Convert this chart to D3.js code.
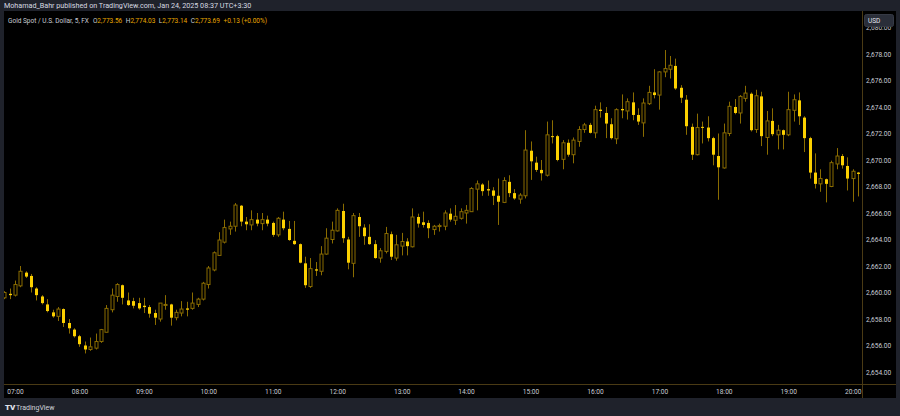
<!DOCTYPE html>
<html><head><meta charset="utf-8">
<script src="https://cdn.jsdelivr.net/npm/d3@7/dist/d3.min.js"></script>
<style>
html,body{margin:0;padding:0;background:#1f222b;}
svg{display:block;}
text{font-family:Roboto,"Noto Sans",sans-serif;}
</style></head>
<body>
<svg id="c" width="900" height="416"></svg>
<script>
// ---- data (5-minute candles, Gold Spot / USD) ----
const startTime = "2025-01-24T06:50:00";
const opens = [2659.6,2659.9,2659.8,2660.5,2661.5,2661.25,2660.3,2659.7,2659.1,2658.5,
2658.2,2658.75,2657.7,2657.2,2656.7,2656.0,2655.7,2655.8,2656.3,2657.0,
2658.7,2659.7,2660.55,2659.4,2659.35,2659.2,2659.0,2658.9,2658.45,2658.0,
2659.05,2659.1,2658.1,2658.45,2658.8,2658.8,2659.1,2659.5,2660.6,2661.7,
2662.8,2663.8,2664.8,2665.0,2666.55,2665.35,2665.1,2665.5,2665.2,2665.5,
2665.25,2664.35,2665.5,2664.8,2663.9,2663.65,2662.2,2660.45,2661.75,2661.6,
2662.9,2664.0,2664.65,2666.15,2664.0,2662.2,2665.7,2664.9,2664.2,2663.65,
2662.6,2663.1,2664.4,2662.6,2663.5,2663.85,2663.45,2665.7,2665.3,2665.25,
2664.75,2665.0,2665.0,2665.95,2665.45,2665.6,2666.0,2666.1,2667.8,2668.15,
2667.8,2667.7,2667.3,2666.8,2668.35,2667.5,2667.05,2667.3,2670.7,2669.8,
2669.25,2668.85,2671.8,2671.8,2670.05,2671.3,2670.4,2671.4,2672.3,2672.65,
2672.05,2673.8,2673.55,2672.7,2671.6,2673.85,2673.7,2674.35,2673.4,2672.8,
2674.25,2675.1,2674.9,2676.65,2676.85,2677.1,2675.45,2674.55,2672.5,2670.4,
2672.5,2672.45,2671.65,2670.3,2669.4,2672.0,2674.0,2673.55,2674.65,2675.0,
2672.3,2674.8,2671.7,2672.95,2671.9,2672.25,2671.9,2673.75,2674.5,2673.2,
2671.65,2669.05,2668.2,2668.55,2668.0,2669.7,2670.3,2669.55,2668.6,2669.05];
const highs = [2660.1,2660.3,2660.9,2662.0,2661.6,2661.4,2660.4,2659.8,2659.5,2658.7,
2658.9,2658.8,2658.0,2657.3,2656.8,2656.3,2656.6,2656.9,2657.25,2659.05,
2660.3,2660.7,2660.6,2660.0,2659.6,2659.6,2659.6,2659.05,2658.7,2659.2,
2659.8,2659.15,2658.7,2659.35,2659.3,2660.0,2659.6,2660.8,2662.0,2663.1,
2664.55,2665.5,2665.35,2666.75,2666.6,2665.7,2666.2,2666.0,2666.0,2665.8,
2665.35,2665.7,2666.1,2665.4,2665.4,2663.7,2662.7,2662.6,2662.3,2663.5,
2664.85,2665.35,2666.35,2666.7,2664.2,2666.0,2666.0,2665.15,2665.15,2663.95,
2663.35,2664.95,2664.6,2664.35,2664.5,2664.1,2666.35,2665.95,2666.1,2665.45,
2665.1,2665.2,2666.2,2666.35,2666.6,2666.35,2666.6,2667.95,2668.45,2668.25,
2668.45,2667.95,2668.6,2668.7,2668.85,2667.8,2667.5,2672.25,2671.4,2670.25,
2670.0,2672.9,2673.0,2671.9,2671.5,2671.55,2671.7,2672.55,2672.8,2672.8,
2674.1,2674.35,2674.0,2673.15,2673.9,2674.95,2674.65,2675.1,2673.9,2674.65,
2675.6,2676.85,2676.7,2678.3,2677.85,2677.65,2675.65,2674.9,2672.75,2673.5,
2672.9,2673.3,2671.75,2672.0,2672.75,2674.4,2674.6,2674.9,2675.6,2675.1,
2675.3,2675.15,2673.7,2673.9,2672.65,2672.3,2675.15,2674.95,2675.1,2673.3,
2671.75,2670.5,2669.3,2668.6,2669.95,2670.9,2670.45,2670.2,2669.3,2669.1];
const lows = [2659.5,2659.5,2659.7,2660.4,2661.1,2660.0,2659.4,2659.1,2658.5,2658.1,
2657.85,2657.4,2656.9,2656.6,2655.9,2655.4,2655.6,2655.7,2656.2,2657.0,
2658.5,2659.3,2659.1,2659.0,2658.8,2658.7,2658.45,2658.1,2657.55,2657.8,
2658.7,2657.5,2657.9,2658.2,2658.2,2658.7,2658.9,2659.4,2660.3,2661.6,
2662.8,2663.7,2664.35,2664.6,2665.0,2664.7,2664.7,2665.0,2664.7,2665.0,
2664.2,2664.2,2664.7,2663.9,2663.6,2662.2,2660.35,2660.35,2661.25,2661.3,
2662.85,2663.7,2664.6,2663.75,2661.75,2661.15,2664.2,2663.6,2663.6,2662.55,
2662.25,2662.95,2662.45,2662.4,2662.8,2662.8,2663.4,2664.9,2664.9,2664.1,
2664.35,2664.6,2664.7,2665.35,2665.1,2665.5,2665.2,2666.1,2666.2,2667.3,
2667.3,2666.6,2665.1,2666.75,2667.2,2667.0,2666.7,2667.1,2668.5,2669.1,
2668.45,2668.75,2671.25,2669.9,2669.3,2670.25,2669.75,2671.0,2672.05,2672.0,
2671.65,2673.2,2671.65,2671.55,2671.2,2673.15,2673.05,2673.0,2672.65,2671.75,
2674.15,2674.65,2673.8,2676.25,2676.15,2675.3,2674.3,2671.9,2670.0,2670.35,
2671.25,2671.4,2669.6,2667.0,2669.35,2671.8,2673.45,2672.75,2674.4,2672.15,
2672.05,2671.05,2670.4,2671.8,2670.8,2670.8,2671.8,2672.9,2672.65,2670.6,
2668.6,2667.85,2667.6,2666.8,2667.95,2669.3,2669.35,2667.7,2666.85,2667.25];
const closes = [2660.0,2659.8,2660.6,2661.6,2661.2,2660.4,2659.8,2659.2,2658.6,2658.2,
2658.75,2657.7,2657.3,2656.7,2656.1,2655.7,2655.9,2656.3,2657.2,2658.8,
2659.8,2660.6,2659.6,2659.05,2659.0,2658.8,2658.9,2658.4,2658.1,2659.2,
2659.1,2658.1,2658.5,2658.75,2658.7,2659.2,2659.5,2660.7,2661.85,2663.0,
2663.96,2664.9,2665.0,2666.6,2665.35,2665.15,2665.5,2665.2,2665.5,2665.2,
2664.35,2665.6,2664.85,2663.96,2663.65,2662.25,2660.55,2661.8,2661.65,2662.9,
2664.1,2664.7,2666.2,2664.1,2662.25,2665.8,2665.0,2664.25,2663.65,2662.6,
2663.15,2664.45,2662.7,2663.6,2663.85,2663.5,2665.7,2665.2,2665.1,2664.85,
2665.0,2665.05,2666.0,2665.5,2665.75,2666.1,2666.2,2667.85,2668.2,2667.65,
2667.7,2667.3,2666.85,2668.45,2667.5,2667.1,2667.35,2670.75,2669.9,2669.25,
2669.0,2671.9,2671.75,2670.0,2671.3,2670.4,2671.5,2672.3,2672.65,2672.05,
2673.8,2673.7,2672.75,2671.65,2673.8,2673.75,2674.4,2673.4,2672.9,2674.3,
2675.1,2674.9,2676.65,2676.9,2677.15,2675.4,2674.7,2672.55,2670.4,2672.45,
2672.45,2671.65,2670.4,2669.45,2672.05,2674.05,2673.55,2674.8,2675.05,2672.25,
2674.85,2671.8,2672.95,2671.95,2672.25,2671.9,2673.8,2674.55,2673.3,2671.65,
2669.05,2668.2,2668.6,2668.2,2669.8,2670.3,2669.6,2668.6,2669.15,2668.95];
const priceTicks = [2654,2656,2658,2660,2662,2664,2666,2668,2670,2672,2674,2676,2678,2680];
const timeTickLabels = ["07:00","08:00","09:00","10:00","11:00","12:00","13:00","14:00","15:00","16:00","17:00","18:00","19:00","20:00"];
const headerText = "Mohamad_Bahr published on TradingView.com, Jan 24, 2025 08:37 UTC+3:30";
const symbolText = "Gold Spot / U.S. Dollar, 5, FX";
const ohlcLabels = ["O","H","L","C"];
const ohlcValues = ["2,773.56","2,774.03","2,773.14","2,773.69"];
const changeText = "+0.13 (+0.00%)";

// ---- drawing ----
const svg = d3.select("#c");
const W = 900, H = 416;
const panel = {x0:4, y0:11, x1:896, y1:398};
const plotRight = 862, plotBottom = 384;
const upColor = "#8a6c00", downColor = "#fcd000", wickColor = "#8a6c00";
const sepColor = "#4a3a14", textColor = "#c9ccd4";

svg.append("rect").attr("width",W).attr("height",H).attr("fill","#1f222b");
svg.append("rect").attr("x",panel.x0).attr("y",panel.y0)
  .attr("width",panel.x1-panel.x0).attr("height",panel.y1-panel.y0).attr("fill","#000");

const parse = d3.timeParse("%Y-%m-%dT%H:%M:%S");
const t0 = parse(startTime);
const candles = opens.map((o,i)=>({t:d3.timeMinute.offset(t0,5*i),o,h:highs[i],l:lows[i],c:closes[i]}));

const x = d3.scaleTime()
  .domain([parse("2025-01-24T07:00:00"), parse("2025-01-24T20:00:00")])
  .range([15, 852.7]);
const y = d3.scaleLinear().domain([2654, 2678]).range([372, 54]);

svg.append("clipPath").attr("id","plotclip").append("rect")
  .attr("x",panel.x0).attr("y",panel.y0).attr("width",plotRight-panel.x0).attr("height",plotBottom-panel.y0);

const g = svg.append("g").attr("clip-path","url(#plotclip)");
const cg = g.selectAll("g.candle").data(candles).join("g").attr("class","candle");
cg.append("line")
  .attr("x1",d=>Math.round(x(d.t))+0.5).attr("x2",d=>Math.round(x(d.t))+0.5)
  .attr("y1",d=>y(d.h)).attr("y2",d=>y(d.l))
  .attr("stroke",wickColor).attr("stroke-width",1);
cg.append("rect")
  .attr("x",d=>Math.round(x(d.t))-1)
  .attr("width",3)
  .attr("y",d=>y(Math.max(d.o,d.c)))
  .attr("height",d=>Math.max(1,Math.abs(y(d.o)-y(d.c))))
  .attr("fill",d=>d.c>=d.o?"#000":downColor)
  .attr("stroke",d=>d.c>=d.o?upColor:"none")
  .attr("stroke-width",1);

// separators
svg.append("line").attr("x1",plotRight+0.5).attr("x2",plotRight+0.5).attr("y1",panel.y0).attr("y2",panel.y1)
  .attr("stroke",sepColor);
svg.append("line").attr("x1",panel.x0).attr("x2",panel.x1).attr("y1",plotBottom+0.5).attr("y2",plotBottom+0.5)
  .attr("stroke",sepColor);

// price axis
const ya = svg.append("g").attr("transform",`translate(${plotRight},0)`)
  .call(d3.axisRight(y).tickValues(priceTicks).tickFormat(d3.format(",.2f")).tickSize(0).tickPadding(4));
ya.select(".domain").remove();
ya.selectAll("text").attr("fill",textColor).style("font-size","6.6px").attr("font-family","Roboto, sans-serif");

// time axis
const tickDates = timeTickLabels.map(s=>parse("2025-01-24T"+s+":00"));
const xa = svg.append("g").attr("transform",`translate(0,${plotBottom})`)
  .call(d3.axisBottom(x).tickValues(tickDates).tickFormat((d,i)=>timeTickLabels[i]).tickSize(0).tickPadding(5.5));
xa.select(".domain").remove();
xa.selectAll("text").attr("fill",textColor).style("font-size","6.6px").attr("font-family","Roboto, sans-serif");

// USD button
svg.append("rect").attr("x",864.5).attr("y",14.5).attr("width",29).attr("height",12).attr("rx",2)
  .attr("fill","#2a2e39").attr("stroke","#363a45");
svg.append("text").attr("x",868).attr("y",23).attr("fill","#e0e3eb").style("font-size","6.5px").text("USD");

// header
svg.append("text").attr("x",4).attr("y",8).attr("fill","#d8dbe2").style("font-size","7.2px").text(headerText);
const ht = svg.append("text").attr("x",8).attr("y",22.5).style("font-size","6.5px").attr("fill","#c9ccd4");
ht.append("tspan").text(symbolText);
const valColor = "#e9a900";
ohlcLabels.forEach((lab,i)=>{
  ht.append("tspan").attr("dx",i===0?4:3.5).attr("fill","#c9ccd4").text(lab);
  ht.append("tspan").attr("fill",valColor).text(ohlcValues[i]);
});
ht.append("tspan").attr("dx",3.5).attr("fill",valColor).text(changeText);

// TradingView footer
const lg = svg.append("g").attr("transform","translate(5,403)");
lg.append("text").attr("x",0).attr("y",6.5).attr("fill","#e0e3eb").style("font-size","8px").style("font-weight","900").text("TV");
lg.append("text").attr("x",11).attr("y",6.5).attr("fill","#d1d4dc").style("font-size","7px").text("TradingView");
</script>
</body></html>
